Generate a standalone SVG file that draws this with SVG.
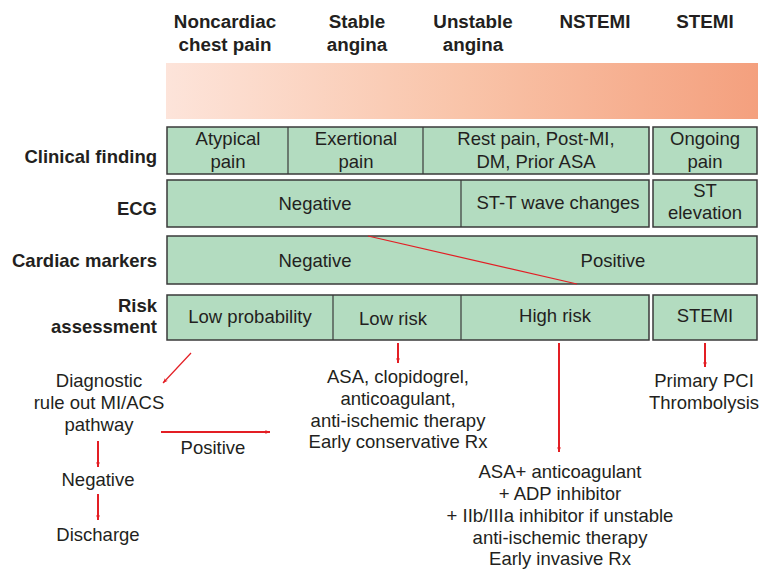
<svg xmlns="http://www.w3.org/2000/svg" width="761" height="569" viewBox="0 0 761 569">
<style>
text{font-family:"Liberation Sans",Arial,sans-serif;fill:#231f20;font-size:18.5px}
.h{font-weight:bold;text-anchor:middle;font-size:18.8px}
.l{font-weight:bold;text-anchor:end;font-size:18.5px}
.c{text-anchor:middle}
.box{fill:#b3dcc0;stroke:#3a3a3a;stroke-width:1.5}
.div{stroke:#3a3a3a;stroke-width:1.2}
.ar{stroke:#e31e24;stroke-width:2;fill:none;marker-end:url(#ah)}
.ar1{stroke:#e31e24;stroke-width:1.2;fill:none;marker-end:url(#ah)}
</style>
<defs>
<linearGradient id="g" x1="0" x2="1" y1="0" y2="0">
<stop offset="0" stop-color="#fde4da"/>
<stop offset="0.5" stop-color="#f9c4a9"/>
<stop offset="1" stop-color="#f4a07e"/>
</linearGradient>
<marker id="ah" viewBox="0 0 10 10" refX="10" refY="5" markerWidth="5" markerHeight="5" markerUnits="userSpaceOnUse" orient="auto">
<path d="M0,1 L10,5 L0,9 L3,5 Z" fill="#e31e24"/>
</marker>
</defs>

<g id="headers">
<text class="h" x="225" y="28">Noncardiac</text>
<text class="h" x="225" y="51">chest pain</text>
<text class="h" x="357" y="28">Stable</text>
<text class="h" x="357" y="51">angina</text>
<text class="h" x="473" y="28">Unstable</text>
<text class="h" x="473" y="51">angina</text>
<text class="h" x="595" y="28">NSTEMI</text>
<text class="h" x="705" y="28">STEMI</text>
</g>

<rect id="gradient" x="166" y="63" width="592" height="56" fill="url(#g)"/>

<g id="row-labels">
<text class="l" x="157" y="163">Clinical finding</text>
<text class="l" x="157" y="215">ECG</text>
<text class="l" x="157" y="267">Cardiac markers</text>
<text class="l" x="157" y="312">Risk</text>
<text class="l" x="157" y="333">assessment</text>
</g>

<g id="clinical-finding">
<rect class="box" x="167" y="127" width="482" height="47"/>
<line class="div" x1="288" y1="127" x2="288" y2="174"/>
<line class="div" x1="423" y1="127" x2="423" y2="174"/>
<text class="c" x="228" y="145">Atypical</text>
<text class="c" x="228" y="168">pain</text>
<text class="c" x="356" y="145">Exertional</text>
<text class="c" x="356" y="168">pain</text>
<text class="c" x="536" y="145">Rest pain, Post-MI,</text>
<text class="c" x="536" y="168">DM, Prior ASA</text>
<rect class="box" x="653" y="127" width="104" height="47"/>
<text class="c" x="705" y="145">Ongoing</text>
<text class="c" x="705" y="168">pain</text>
</g>

<g id="ecg">
<rect class="box" x="167" y="180" width="482" height="47"/>
<line class="div" x1="461" y1="180" x2="461" y2="227"/>
<text class="c" x="315" y="210">Negative</text>
<text class="c" x="558" y="209">ST-T wave changes</text>
<rect class="box" x="653" y="180" width="104" height="47"/>
<text class="c" x="705" y="197">ST</text>
<text class="c" x="705" y="219">elevation</text>
</g>

<g id="cardiac-markers">
<rect class="box" x="167" y="236" width="590" height="48"/>
<line x1="368" y1="236" x2="577" y2="284" stroke="#e31e24" stroke-width="1.2"/>
<text class="c" x="315" y="267">Negative</text>
<text class="c" x="613" y="267">Positive</text>
</g>

<g id="risk">
<rect class="box" x="167" y="295" width="482" height="45"/>
<line class="div" x1="333" y1="295" x2="333" y2="340"/>
<line class="div" x1="461" y1="295" x2="461" y2="340"/>
<text class="c" x="250" y="323">Low probability</text>
<text class="c" x="393" y="325">Low risk</text>
<text class="c" x="555" y="322">High risk</text>
<rect class="box" x="653" y="295" width="104" height="45"/>
<text class="c" x="705" y="322">STEMI</text>
</g>

<g id="connectors">
<line class="ar1" x1="191" y1="353" x2="163" y2="383"/>
<line class="ar" x1="398" y1="343" x2="398" y2="363"/>
<line class="ar" x1="559" y1="343" x2="559" y2="452"/>
<line class="ar" x1="705" y1="343" x2="705" y2="367"/>
<line class="ar" x1="161" y1="432" x2="270" y2="432"/>
<line class="ar" x1="98" y1="441" x2="98" y2="467"/>
<line class="ar" x1="98" y1="494" x2="98" y2="520"/>
<text class="c" x="213" y="454">Positive</text>
</g>

<g id="diagnostic">
<text class="c" x="99" y="387">Diagnostic</text>
<text class="c" x="99" y="409">rule out MI/ACS</text>
<text class="c" x="99" y="431">pathway</text>
</g>
<g id="negative"><text class="c" x="98" y="486">Negative</text></g>
<g id="discharge"><text class="c" x="98" y="541">Discharge</text></g>

<g id="low-risk-rx">
<text class="c" x="398" y="383">ASA, clopidogrel,</text>
<text class="c" x="398" y="405">anticoagulant,</text>
<text class="c" x="398" y="427">anti-ischemic therapy</text>
<text class="c" x="398" y="448">Early conservative Rx</text>
</g>

<g id="high-risk-rx">
<text class="c" x="560" y="478">ASA+ anticoagulant</text>
<text class="c" x="560" y="500">+ ADP inhibitor</text>
<text class="c" x="560" y="522">+ IIb/IIIa inhibitor if unstable</text>
<text class="c" x="560" y="544">anti-ischemic therapy</text>
<text class="c" x="560" y="565">Early invasive Rx</text>
</g>

<g id="stemi-rx">
<text class="c" x="704" y="387">Primary PCI</text>
<text class="c" x="704" y="409">Thrombolysis</text>
</g>
</svg>
